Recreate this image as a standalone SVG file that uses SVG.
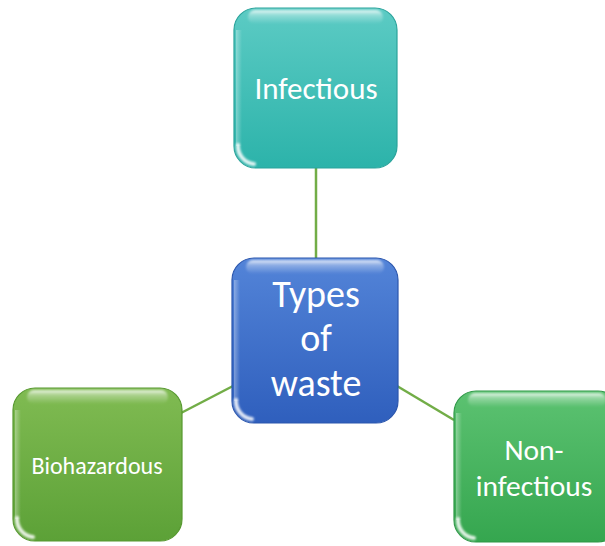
<svg xmlns="http://www.w3.org/2000/svg" width="605" height="546" viewBox="0 0 605 546">
  <defs>
    <linearGradient id="gTeal" x1="0" y1="0" x2="0" y2="1">
      <stop offset="0" stop-color="#5ccbc4"/>
      <stop offset="1" stop-color="#2cb3aa"/>
    </linearGradient>
    <linearGradient id="gBlue" x1="0" y1="0" x2="0" y2="1">
      <stop offset="0" stop-color="#5384d8"/>
      <stop offset="1" stop-color="#2f5fbd"/>
    </linearGradient>
    <linearGradient id="gLime" x1="0" y1="0" x2="0" y2="1">
      <stop offset="0" stop-color="#80bb52"/>
      <stop offset="1" stop-color="#5ca137"/>
    </linearGradient>
    <linearGradient id="gGreen" x1="0" y1="0" x2="0" y2="1">
      <stop offset="0" stop-color="#5cc271"/>
      <stop offset="1" stop-color="#35a64f"/>
    </linearGradient>
    <linearGradient id="gShine" x1="0" y1="0" x2="0" y2="1">
      <stop offset="0" stop-color="#ffffff" stop-opacity="0.85"/>
      <stop offset="0.35" stop-color="#ffffff" stop-opacity="0.35"/>
      <stop offset="1" stop-color="#ffffff" stop-opacity="0"/>
    </linearGradient>
    <linearGradient id="gSide" x1="0" y1="0" x2="1" y2="0">
      <stop offset="0" stop-color="#ffffff" stop-opacity="0.35"/>
      <stop offset="1" stop-color="#ffffff" stop-opacity="0"/>
    </linearGradient>
    <filter id="soft" x="-20%" y="-20%" width="140%" height="140%">
      <feGaussianBlur stdDeviation="0.8"/>
    </filter>
  </defs>
  <style>
    .edge { stroke: #72ad47; stroke-width: 2.5; fill: none; }
    .box { stroke-width: 1.2; }
    .shine { fill: url(#gShine); filter: url(#soft); }
    .side { fill: url(#gSide); }
    .spot { fill: none; stroke: #ffffff; stroke-opacity: 0.85; stroke-width: 4; stroke-linecap: round; filter: url(#soft); }
    .lbl { fill: #ffffff; font-family: Calibri, Carlito, "Liberation Sans", "Open Sans", sans-serif; text-anchor: middle; }
  </style>

  <g id="connectors">
    <line class="edge" x1="316" y1="168" x2="316" y2="258"/>
    <line class="edge" x1="233" y1="386" x2="181" y2="413"/>
    <line class="edge" x1="397" y1="386" x2="454" y2="420"/>
  </g>

  <g id="node-infectious">
    <rect class="box" x="234" y="8" width="163" height="160" rx="22" fill="url(#gTeal)" stroke="#2aa39b"/>
    <rect class="side" x="236" y="30" width="6" height="116"/>
    <rect class="shine" x="248" y="10" width="135" height="14" rx="7"/>
    <path class="spot" d="M238,145 A18,18 0 0 0 254,164"/>
    <text class="lbl" x="316" y="99" font-size="31">Infectious</text>
  </g>

  <g id="node-types-of-waste">
    <rect class="box" x="232" y="258" width="166" height="165" rx="22" fill="url(#gBlue)" stroke="#2b56ad"/>
    <rect class="side" x="234" y="280" width="6" height="121"/>
    <rect class="shine" x="246" y="260" width="138" height="14" rx="7"/>
    <path class="spot" d="M236,400 A18,18 0 0 0 252,419"/>
    <text class="lbl" x="316" y="307" font-size="38">Types</text>
    <text class="lbl" x="316" y="351" font-size="38">of</text>
    <text class="lbl" x="316" y="396" font-size="38">waste</text>
  </g>

  <g id="node-biohazardous">
    <rect class="box" x="13" y="388" width="169" height="153" rx="22" fill="url(#gLime)" stroke="#56982f"/>
    <rect class="side" x="15" y="410" width="6" height="109"/>
    <rect class="shine" x="27" y="390" width="141" height="14" rx="7"/>
    <path class="spot" d="M17,518 A18,18 0 0 0 33,537"/>
    <text class="lbl" x="97" y="474" font-size="24">Biohazardous</text>
  </g>

  <g id="node-non-infectious">
    <rect class="box" x="454" y="391" width="166" height="151" rx="22" fill="url(#gGreen)" stroke="#2f9847"/>
    <rect class="side" x="456" y="413" width="6" height="107"/>
    <rect class="shine" x="468" y="393" width="138" height="14" rx="7"/>
    <path class="spot" d="M458,519 A18,18 0 0 0 474,538"/>
    <text class="lbl" x="534" y="460" font-size="29.5">Non-</text>
    <text class="lbl" x="534" y="496" font-size="29.5">infectious</text>
  </g>
</svg>
